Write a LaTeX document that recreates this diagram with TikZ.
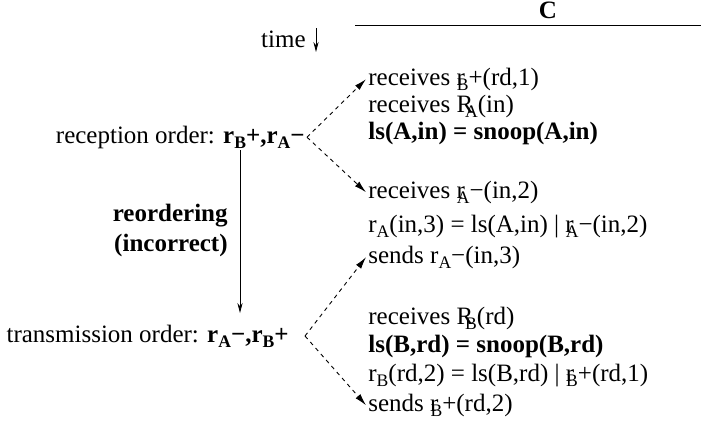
\documentclass[tikz,border=0pt]{standalone}
\usepackage{fontspec}
\setmainfont{Liberation Serif}
\usetikzlibrary{arrows.meta}
\newcommand\lsub[1]{\raisebox{-0.5ex}{\fontsize{8.8}{8.8}\selectfont #1}}
\newcommand\osub[1]{\kern-0.32em\lsub{#1}}
\tikzset{
  msg/.style={-{Latex[length=6pt,width=3.2pt]}, dash pattern=on 2pt off 2pt, line width=0.45pt},
  tarrow/.style={-{Stealth[length=5pt,width=2.6pt]}, line width=0.45pt},
  cline/.style={anchor=base west, inner sep=1pt},
}
\begin{document}
\begin{tikzpicture}[x=0.5pt, y=-0.5pt, font=\fontsize{12.5}{14}\selectfont]
  \useasboundingbox (0,0) rectangle (701,425);
  % header of C
  \node[anchor=base, font=\fontsize{12.5}{14}\selectfont\bfseries] (hdr) at (548,18) {C};
  \draw[line width=0.45pt] (355,25) -- (701,25);
  \node[anchor=base east, inner sep=0pt] (time) at (306,47) {time};
  \coordinate (t0) at (316,28); \coordinate (t1) at (316,52);
  \draw[tarrow] (t0) -- (t1);
  % the two orders
  \node[anchor=base east, inner sep=1pt] (recv) at (307,143) {reception order: \textbf{r\lsub{B}+,r\lsub{A}−}};
  \node[anchor=base east, inner sep=1pt] (trans) at (291,342) {transmission order: \textbf{r\lsub{A}−,r\lsub{B}+}};
  \node[anchor=east, align=right, inner sep=1pt, font=\fontsize{12.5}{15}\selectfont\bfseries] (reord) at (230,230) {reordering\\(incorrect)};
  \coordinate (rtop) at (240,150); \coordinate (rbot) at (240,313);
  \draw[tarrow] (rtop) -- (rbot);
  % events at C
  \node[cline] (c1) at (366,85) {receives r\osub{B}+(rd,1)};
  \node[cline] (c2) at (366,112) {receives R\osub{A}(in)};
  \node[cline] (c3) at (366,139) {\textbf{ls(A,in) = snoop(A,in)}};
  \node[cline] (c4) at (366,198) {receives r\osub{A}−(in,2)};
  \node[cline] (c5) at (366,232) {r\lsub{A}(in,3) = ls(A,in) | r\osub{A}−(in,2)};
  \node[cline] (c6) at (366,263) {sends r\lsub{A}−(in,3)};
  \node[cline] (c7) at (366,324) {receives R\osub{B}(rd)};
  \node[cline] (c8) at (366,352) {\textbf{ls(B,rd) = snoop(B,rd)}};
  \node[cline] (c9) at (366,381) {r\lsub{B}(rd,2) = ls(B,rd) | r\osub{B}+(rd,1)};
  \node[cline] (c10) at (366,411) {sends r\osub{B}+(rd,2)};
  \coordinate (tfork) at (305,336);
  \draw[msg] (recv.east) -- (c1.west);
  \draw[msg] (recv.east) -- (c4.west);
  \draw[msg] (tfork) -- (c6.west);
  \draw[msg] (tfork) -- (c10.west);
\end{tikzpicture}
\end{document}
